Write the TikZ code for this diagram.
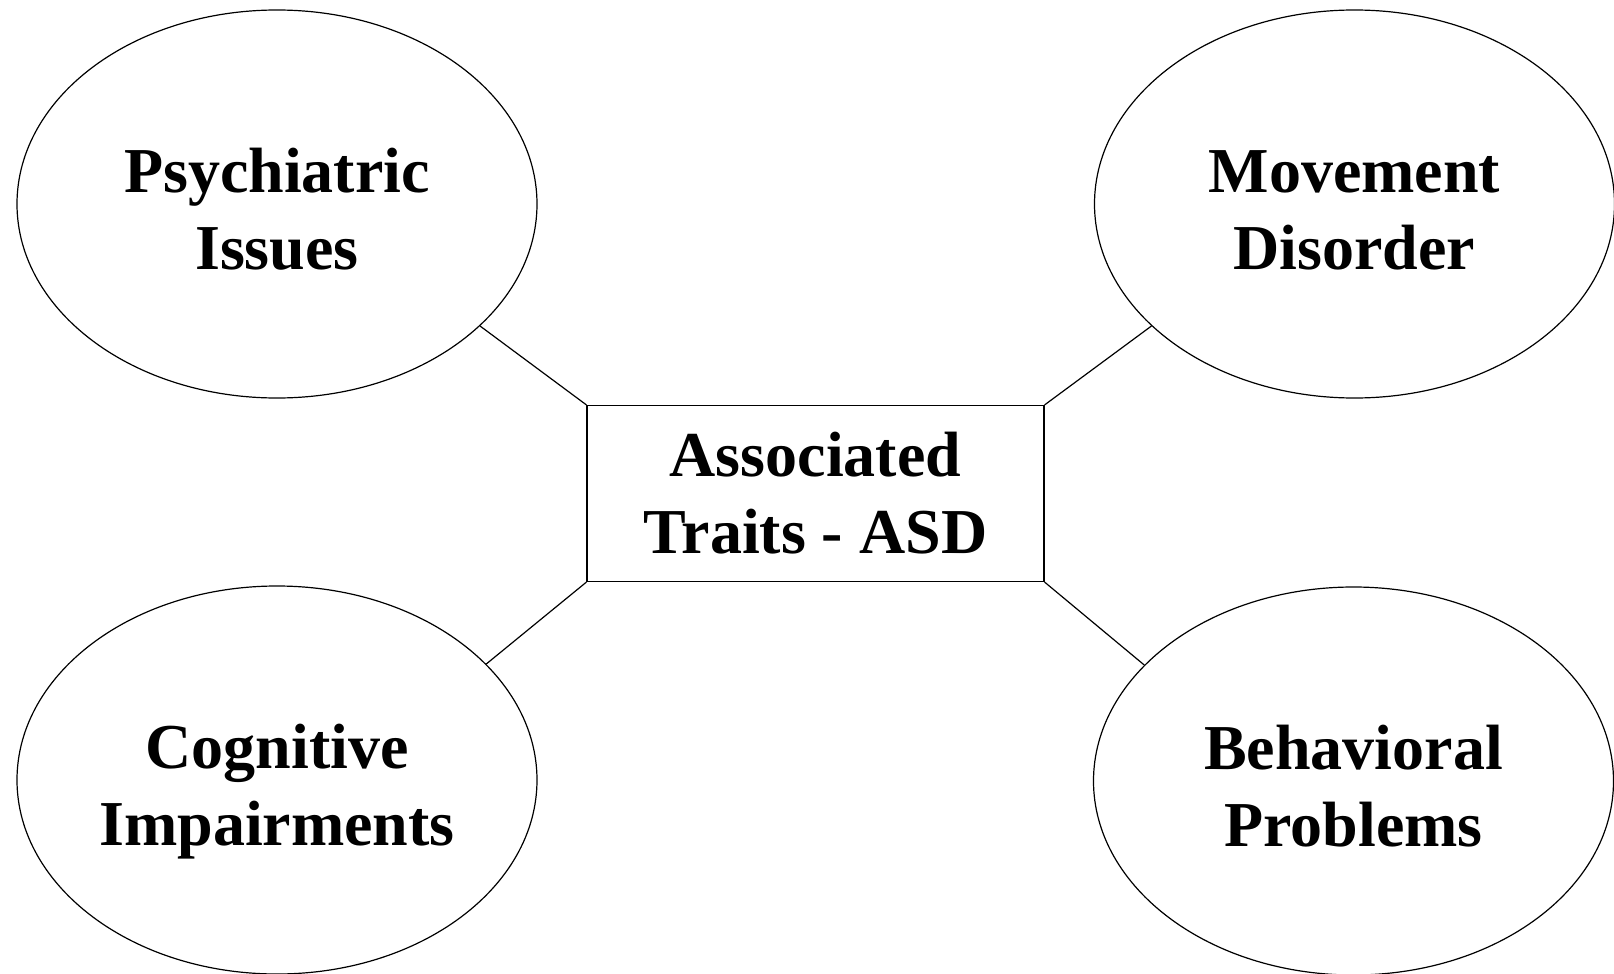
\documentclass[tikz,border=0pt]{standalone}
\usepackage{fontspec}
\setmainfont{Liberation Serif}
\usetikzlibrary{shapes.geometric}
\begin{document}
\begin{tikzpicture}[x=1pt,y=-1pt,
  trait/.style={ellipse,draw=black,line width=1.2pt,inner sep=0pt,
    minimum width=520pt,minimum height=388pt,align=center,
    text height=131pt,text depth=0pt,
    font=\fontsize{64}{77}\selectfont\bfseries},
  hub/.style={rectangle,draw=black,line width=1.2pt,inner sep=0pt,
    minimum width=457pt,minimum height=176pt,align=center,
    font=\fontsize{64}{77}\selectfont\bfseries},
  link/.style={draw=black,line width=1.2pt}]
\useasboundingbox (0,0) rectangle (1614,974);
\fill[white] (0,0) rectangle (1614,974);

\node[hub] (asd) at (815.5,493.5) {Associated\\Traits - ASD};

\node[trait] (psy) at (277,204) {Psychiatric\\Issues};
\node[trait] (mov) at (1354.5,204) {Movement\\Disorder};
\node[trait] (cog) at (277,780) {Cognitive\\Impairments};
\node[trait] (beh) at (1353.5,781) {Behavioral\\Problems};

\draw[link] (psy.-31) -- (asd.north west);
\draw[link] (mov.-149.6) -- (asd.north east);
\draw[link] (cog.29) -- (asd.south west);
\draw[link] (beh.151) -- (asd.south east);
\end{tikzpicture}
\end{document}
